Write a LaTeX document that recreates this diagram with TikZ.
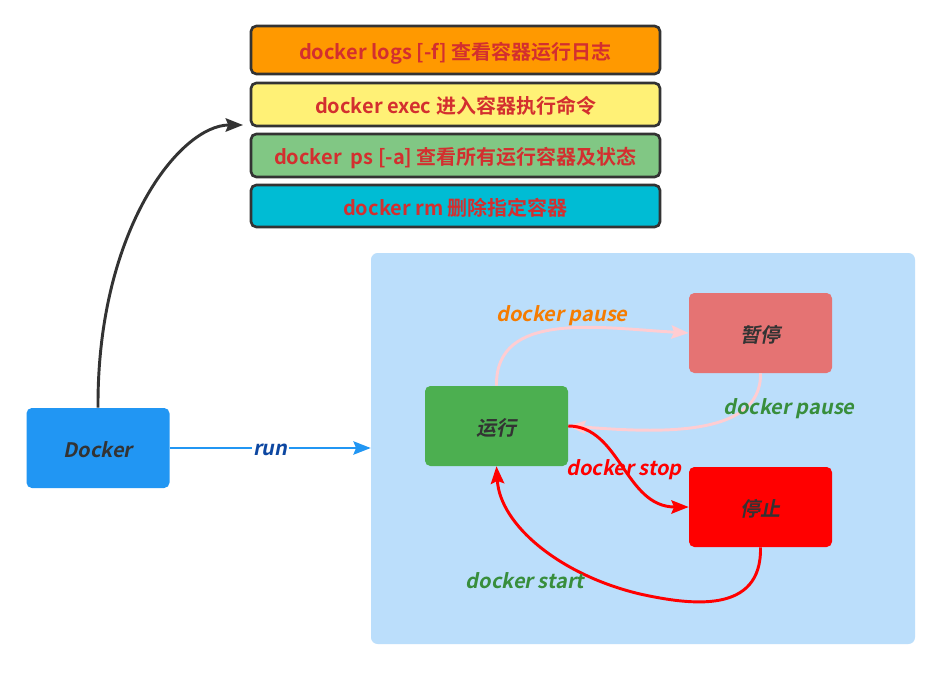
\documentclass[tikz,border=0pt]{standalone}
\usepackage{fontspec}
\usetikzlibrary{arrows.meta}
\newfontfamily\cjkb{Noto Sans CJK SC}[UprightFont=* Bold]
\newfontfamily\cjkbi{Noto Sans CJK SC}[UprightFont=* Bold, FakeSlant=0.2]
\newcommand\pxu{0.75pt}
\definecolor{cOrange}{HTML}{FF9900}
\definecolor{cYellow}{HTML}{FFF176}
\definecolor{cGreenL}{HTML}{81C784}
\definecolor{cCyan}{HTML}{00BCD4}
\definecolor{cRedTxt}{HTML}{D32F2F}
\definecolor{cBgBlue}{HTML}{BBDEFB}
\definecolor{cDocker}{HTML}{2196F3}
\definecolor{cRun}{HTML}{4CAF50}
\definecolor{cPause}{HTML}{E57373}
\definecolor{cStop}{HTML}{FF0000}
\definecolor{cPink}{HTML}{FFCDD2}
\definecolor{cDark}{HTML}{333333}
\definecolor{cNavy}{HTML}{0D47A1}
\definecolor{cOrTxt}{HTML}{F57C00}
\definecolor{cGrTxt}{HTML}{388E3C}
\begin{document}
\begin{tikzpicture}[x=0.75pt,y=-0.75pt,
  cmdbox/.style={draw=cDark, line width=2pt, rounded corners=4pt,
    minimum width=409*\pxu, inner sep=0pt, text=cRedTxt,
    text height=14pt, text depth=0pt,
    font=\cjkb\fontsize{15}{17}\selectfont},
  state/.style={rounded corners=4pt, minimum width=143*\pxu, minimum height=80*\pxu,
    inner sep=0pt, text=cDark, text height=14pt, text depth=0pt,
    font=\cjkbi\fontsize{15}{17}\selectfont},
  lbl/.style={font=\cjkbi\fontsize{15}{17}\selectfont, inner sep=1pt},
  tip/.style={-{Stealth[length=13pt,width=10pt,inset=2pt]}}
]
\useasboundingbox[fill=white] (0,0) rectangle (943,674);
% command boxes
\node[cmdbox, fill=cOrange, minimum height=48*\pxu] (logs) at (455.5,50) {docker logs [-f] 查看容器运行日志};
\node[cmdbox, fill=cYellow, minimum height=43*\pxu] (exec) at (455.5,104.5) {docker exec 进入容器执行命令};
\node[cmdbox, fill=cGreenL, minimum height=43*\pxu] (ps) at (455.5,155.5) {docker\ \ ps [-a] 查看所有运行容器及状态};
\node[cmdbox, fill=cCyan, minimum height=42*\pxu] (rm) at (455.5,206) {docker rm 删除指定容器};
% background region
\node[fill=cBgBlue, rounded corners=5pt, minimum width=544*\pxu, minimum height=391*\pxu, inner sep=0pt] (area) at (643,448.5) {};
% nodes
\node[state, fill=cDocker] (docker) at (98,448) {Docker};
\node[state, fill=cRun] (run) at (496.5,426) {运行};
\node[state, fill=cPause] (pause) at (760.5,333) {暂停};
\node[state, fill=cStop] (stop) at (760.5,507) {停止};
\coordinate (cmdin) at (243,125);
% connectors
\draw[cDark, line width=2.2pt, tip] (docker.north) .. controls (97,230) and (180,125) .. (cmdin);
\draw[cDocker, line width=1.5pt, tip] (docker.east) -- (area.west |- docker.east)
  node[pos=0.5, lbl, text=cNavy, fill=white, yshift=-1.5pt] {run};
\draw[cPink, line width=2.2pt, tip] (run.north) .. controls (495,310) and (600,328) .. (pause.west);
\node[lbl, text=cOrTxt] at (562,316) {docker pause};
\draw[cPink, line width=2.2pt, tip] (pause.south) .. controls (762,440) and (650,432) .. (run.east);
\node[lbl, text=cGrTxt] at (789,409) {docker pause};
\draw[cStop, line width=2.2pt, tip] (run.east) .. controls (620,426) and (625,507) .. (stop.west);
\node[lbl, text=cStop] at (624,470) {docker stop};
\draw[cStop, line width=2.2pt, tip] (stop.south) .. controls (762,615) and (690,605) .. (640,594)
  .. controls (560,575) and (500,525) .. (run.south);
\node[lbl, text=cGrTxt] at (525,581) {docker start};
\end{tikzpicture}
\end{document}
